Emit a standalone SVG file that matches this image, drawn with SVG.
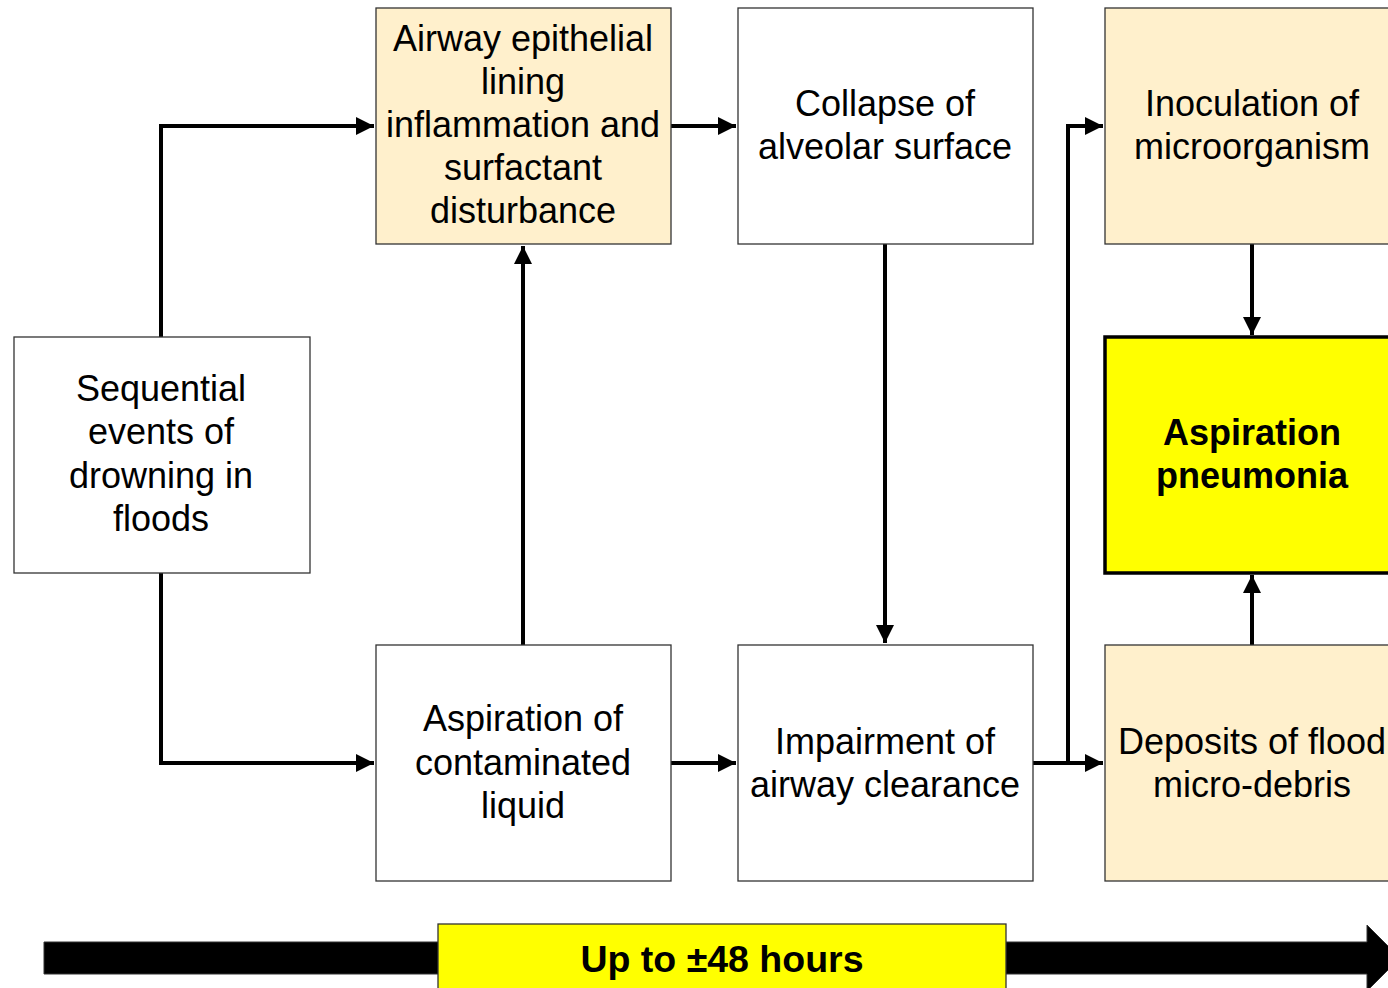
<svg xmlns="http://www.w3.org/2000/svg" width="1388" height="988" viewBox="0 0 1388 988">
<style>
.box{stroke:#333;stroke-width:1.3}
.w{fill:#fff}
.p{fill:#FFF0CC}
.y{fill:#FFFF00}
text{font-family:"Liberation Sans",Arial,sans-serif;font-size:36px;fill:#000;text-anchor:middle}
.b{font-weight:bold}
.c{fill:none;stroke:#000;stroke-width:4}
</style>
<defs>
<marker id="ah" viewBox="0 0 10 10" refX="10" refY="5" markerWidth="4.6" markerHeight="4.6" markerUnits="strokeWidth" orient="auto">
<path d="M0,0 L10,5 L0,10 z" fill="#000"/>
</marker>
</defs>
<rect width="1388" height="988" fill="#fff"/>
<g id="connectors">
<path class="c" d="M161,337 V126 H374" marker-end="url(#ah)"/>
<path class="c" d="M161,573 V763 H374" marker-end="url(#ah)"/>
<path class="c" d="M523,645 V246" marker-end="url(#ah)"/>
<path class="c" d="M671,126 H736" marker-end="url(#ah)"/>
<path class="c" d="M885,244 V643" marker-end="url(#ah)"/>
<path class="c" d="M671,763 H736" marker-end="url(#ah)"/>
<path class="c" d="M1033,763 H1103" marker-end="url(#ah)"/>
<path class="c" d="M1068,763 V126 H1103" marker-end="url(#ah)"/>
<path class="c" d="M1252,244 V335" marker-end="url(#ah)"/>
<path class="c" d="M1252,645 V575" marker-end="url(#ah)"/>
</g>
<g id="sequential">
<rect class="box w" x="14" y="337" width="296" height="236"/>
<text x="161" y="401">Sequential</text>
<text x="161" y="444">events of</text>
<text x="161" y="488">drowning in</text>
<text x="161" y="531">floods</text>
</g>
<g id="airway">
<rect class="box p" x="376" y="8" width="295" height="236"/>
<text x="523" y="51">Airway epithelial</text>
<text x="523" y="94">lining</text>
<text x="523" y="137">inflammation and</text>
<text x="523" y="180">surfactant</text>
<text x="523" y="223">disturbance</text>
</g>
<g id="collapse">
<rect class="box w" x="738" y="8" width="295" height="236"/>
<text x="885" y="116">Collapse of</text>
<text x="885" y="159">alveolar surface</text>
</g>
<g id="inoculation">
<rect class="box p" x="1105" y="8" width="295" height="236"/>
<text x="1252" y="116">Inoculation of</text>
<text x="1252" y="159">microorganism</text>
</g>
<g id="pneumonia">
<rect x="1105" y="337" width="295" height="236" fill="#FFFF00" stroke="#000" stroke-width="3.5"/>
<text class="b" x="1252" y="445">Aspiration</text>
<text class="b" x="1252" y="488">pneumonia</text>
</g>
<g id="aspiration">
<rect class="box w" x="376" y="645" width="295" height="236"/>
<text x="523" y="731">Aspiration of</text>
<text x="523" y="775">contaminated</text>
<text x="523" y="818">liquid</text>
</g>
<g id="impairment">
<rect class="box w" x="738" y="645" width="295" height="236"/>
<text x="885" y="754">Impairment of</text>
<text x="885" y="797">airway clearance</text>
</g>
<g id="deposits">
<rect class="box p" x="1105" y="645" width="295" height="236"/>
<text x="1252" y="754">Deposits of flood</text>
<text x="1252" y="797">micro-debris</text>
</g>
<g id="timeline">
<path d="M44,942 H1367 V925 L1400,958 L1367,991 V974 H44 Z" fill="#000" stroke="#333" stroke-width="1"/>
<rect x="438" y="924" width="568" height="70" fill="#FFFF00" stroke="#333" stroke-width="1.3"/>
<text class="b" x="722" y="972" style="font-size:37.5px">Up to ±48 hours</text>
</g>
</svg>
